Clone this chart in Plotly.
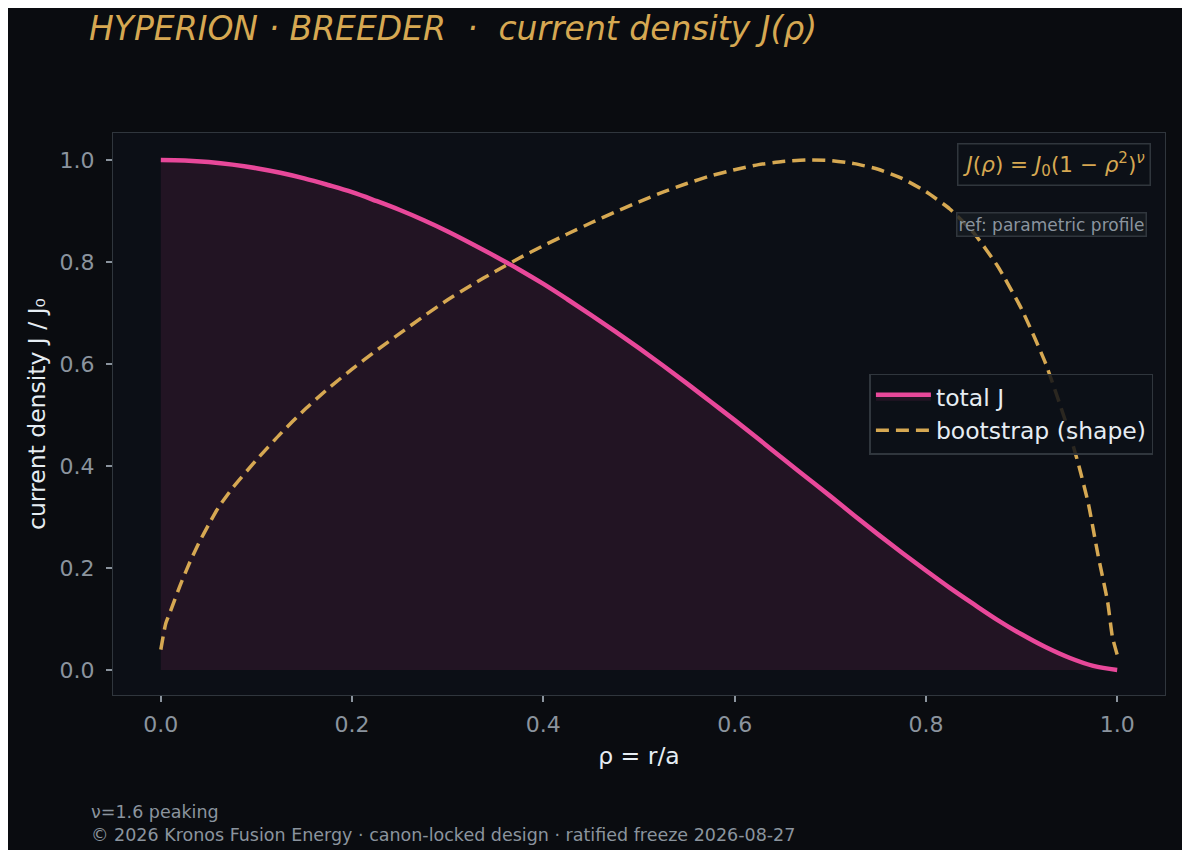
import plotly.graph_objects as go

# radial coordinate and normalised profiles
rho_j = [0.0, 0.025, 0.05, 0.075, 0.1, 0.125, 0.15, 0.175, 0.2, 0.225, 0.25,
         0.275, 0.3, 0.325, 0.35, 0.375, 0.4, 0.425, 0.45, 0.475, 0.5,
         0.525, 0.55, 0.575, 0.6, 0.625, 0.65, 0.675, 0.7, 0.725, 0.75,
         0.775, 0.8, 0.825, 0.85, 0.875, 0.9, 0.925, 0.95, 0.975, 1.0]
total_j = [1.000, 0.999, 0.996, 0.991, 0.984, 0.975, 0.964, 0.951, 0.937, 0.920, 0.902,
           0.882, 0.860, 0.836, 0.811, 0.785, 0.757, 0.727, 0.696, 0.664, 0.631,
           0.597, 0.562, 0.526, 0.490, 0.453, 0.415, 0.378, 0.341, 0.303, 0.266,
           0.230, 0.195, 0.161, 0.129, 0.098, 0.070, 0.045, 0.024, 0.008, 0.000]

rho_b = [0.0, 0.005, 0.01, 0.02, 0.03, 0.04, 0.05, 0.06, 0.075, 0.1, 0.125,
         0.15, 0.175, 0.2, 0.225, 0.25, 0.275, 0.3, 0.325, 0.35, 0.375,
         0.4, 0.425, 0.45, 0.475, 0.5, 0.525, 0.55, 0.575, 0.6, 0.625,
         0.65, 0.675, 0.7, 0.725, 0.75, 0.775, 0.8, 0.825, 0.85, 0.875,
         0.9, 0.925, 0.95, 0.96, 0.97, 0.98, 0.99, 0.995, 1.0]
bootstrap = [0.040, 0.090, 0.115, 0.165, 0.210, 0.250, 0.285, 0.318, 0.357, 0.412, 0.463,
             0.510, 0.552, 0.590, 0.626, 0.660, 0.694, 0.726, 0.755, 0.782, 0.808,
             0.832, 0.855, 0.877, 0.898, 0.918, 0.937, 0.954, 0.969, 0.981, 0.991,
             0.997, 1.000, 0.999, 0.993, 0.982, 0.964, 0.938, 0.904, 0.857, 0.792,
             0.708, 0.602, 0.465, 0.400, 0.325, 0.225, 0.134, 0.065, 0.030]

x_ticks = [0.0, 0.2, 0.4, 0.6, 0.8, 1.0]
y_ticks = [0.0, 0.2, 0.4, 0.6, 0.8, 1.0]

PINK = "#e8489a"
GOLD = "#d6a852"
GRID = "#30363d"
MUTED = "#8b949e"
TEXT = "#e6edf3"
FONT = "DejaVu Sans"

# page has an 8px body margin, so the figure is drawn 8px smaller
W, H = 1182, 842

fig = go.Figure()

fig.add_trace(go.Scatter(
    x=rho_j, y=total_j, mode="lines", name="total J",
    line=dict(color=PINK, width=4.5, shape="spline"),
    fill="tozeroy", fillcolor="rgba(232,72,154,0.10)",
))
fig.add_trace(go.Scatter(
    x=rho_b, y=bootstrap, mode="lines", name="bootstrap (shape)",
    line=dict(color=GOLD, width=3.5, dash="13px,7px", shape="spline", smoothing=0.5),
))

axis_common = dict(
    showgrid=False, zeroline=False,
    showline=True, linecolor=GRID, linewidth=1.2, mirror=True,
    ticks="outside", ticklen=6, tickwidth=1.5, tickcolor=MUTED,
    tickfont=dict(family=FONT, size=22, color=MUTED),
    title_font=dict(family=FONT, size=23.5, color=TEXT),
)

fig.update_xaxes(range=[-0.05, 1.05], tickvals=x_ticks, tickformat=".1f",
                 ticklabelstandoff=3,
                 title_text="ρ = r/a", title_standoff=12, **axis_common)
fig.update_yaxes(range=[-0.049, 1.053], tickvals=y_ticks, tickformat=".1f",
                 ticklabelstandoff=7,
                 title_text="current density J / J₀", title_standoff=7, **axis_common)

fig.add_annotation(
    xref="paper", yref="paper", x=0.987, y=0.982, xanchor="right", yanchor="top",
    text="<i>J</i>(<i>ρ</i>) = <i>J</i><sub>0</sub>(1 − <i>ρ</i><sup>2</sup>)<sup><i>ν</i></sup>",
    showarrow=False, font=dict(family=FONT, size=21.5, color=GOLD),
    bgcolor="rgba(13,17,23,0.85)", bordercolor=GRID, borderwidth=1.5, borderpad=4,
)
fig.add_annotation(
    xref="paper", yref="paper", x=0.983, y=0.859, xanchor="right", yanchor="top",
    text="ref: parametric profile",
    showarrow=False, font=dict(family=FONT, size=17, color=MUTED),
    bgcolor="rgba(22,27,34,0.8)", bordercolor=GRID, borderwidth=1.5, borderpad=1,
)

fig.add_annotation(
    xref="paper", yref="paper", x=-0.0228, y=-0.187, xanchor="left", yanchor="top",
    text="ν=1.6 peaking<br>© 2026 Kronos Fusion Energy · canon-locked design · ratified freeze 2026-08-27",
    showarrow=False, align="left", font=dict(family=FONT, size=17.5, color=MUTED),
)

fig.update_layout(
    width=W, height=H,
    margin=dict(l=105, r=25, t=125, b=155),
    paper_bgcolor="#0a0c10", plot_bgcolor="#0c0f16",
    title=dict(
        text="<i>HYPERION · BREEDER \u00a0·\u00a0 current density J(ρ)</i>",
        x=81 / W, xanchor="left", y=1 - 20 / H, yanchor="middle",
        font=dict(family=FONT, size=33, color=GOLD),
    ),
    legend=dict(
        x=0.989, xanchor="right", y=0.5, yanchor="middle",
        bgcolor="rgba(13,17,23,0.85)", bordercolor=GRID, borderwidth=1.5,
        font=dict(family=FONT, size=23.5, color=TEXT), itemwidth=55,
    ),
    showlegend=True,
)

fig.write_html("out.html")
